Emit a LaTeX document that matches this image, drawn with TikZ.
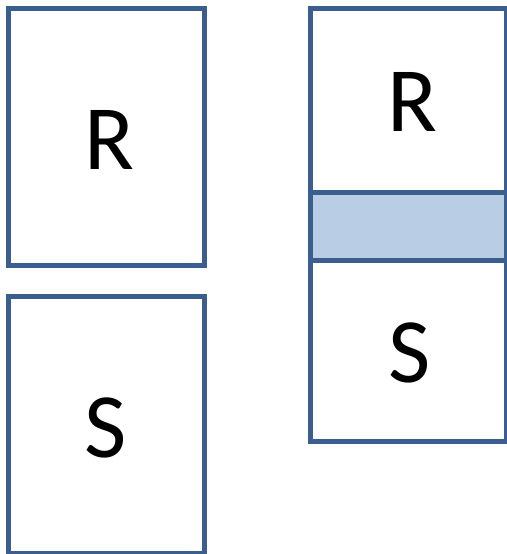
\documentclass[tikz,border=0pt]{standalone}
\usepackage{fontspec}
\setmainfont{Carlito}
\definecolor{edge}{HTML}{3A5F8F}
\definecolor{band}{HTML}{B9CDE5}
\tikzset{
  box/.style={draw=edge, line width=5pt, fill=white},
  letter/.style={inner sep=0pt, font=\fontsize{92}{92}\selectfont}
}
\begin{document}
\begin{tikzpicture}[x=1pt,y=-1pt]
\useasboundingbox (0,0) rectangle (506,554);
% left boxes
\draw[box] (8.5,8.5) rectangle (204.5,265.5);
\draw[box] (8.5,296.5) rectangle (204.5,553.5);
% right stacked box
\fill[band] (310.5,192) rectangle (506.5,260);
\draw[box, fill=none] (310.5,8.5) rectangle (506.5,441.5);
\draw[edge, line width=5pt] (310.5,192) -- (506.5,192);
\draw[edge, line width=5pt] (310.5,260) -- (506.5,260);
% labels
\node[letter] (r1) at (109.5,140) {R};
\node[letter] (s1) at (106,427.5) {S};
\node[letter] (r2) at (412,102) {R};
\node[letter] (s2) at (410,352.5) {S};
\end{tikzpicture}
\end{document}
